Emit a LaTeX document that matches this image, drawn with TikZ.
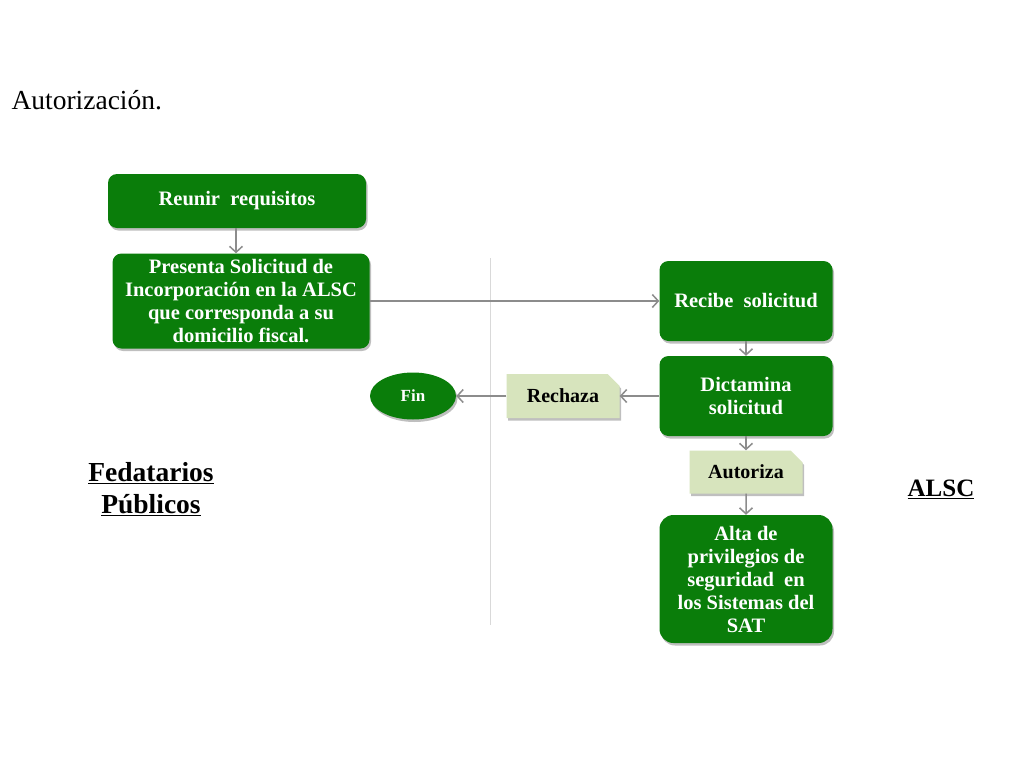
\documentclass[tikz,border=0pt]{standalone}
\usepackage{fontspec}
\setmainfont{Liberation Serif}
\usetikzlibrary{arrows.meta,shapes.misc,shapes.geometric,shadows}
\definecolor{boxgreen}{RGB}{10,125,10}
\definecolor{lightgreen}{RGB}{215,228,189}
\definecolor{arrowgray}{RGB}{140,140,140}
\begin{document}
\begin{tikzpicture}[x=1pt,y=-1pt,
  gbox/.style={draw=none,fill=boxgreen,rounded corners=9pt,text=white,font=\bfseries\fontsize{20.5}{23}\selectfont,align=center,inner sep=0pt,
    drop shadow={shadow xshift=1.5pt,shadow yshift=-2.5pt,fill=black,opacity=0.25}},
  lbox/.style={chamfered rectangle,chamfered rectangle corners=north east,chamfered rectangle xsep=6pt,chamfered rectangle ysep=6pt,fill=lightgreen,draw=none,text=black,font=\bfseries\fontsize{20}{23}\selectfont,inner sep=0pt,
    drop shadow={shadow xshift=1.5pt,shadow yshift=-2.5pt,fill=black,opacity=0.25}},
  arr/.style={draw=arrowgray,line width=1.5pt,-{Straight Barb[length=6pt,width=13pt]}}
]
\useasboundingbox (0,0) rectangle (1024,768);
\fill[white] (0,0) rectangle (1024,768);

\node[anchor=west,font=\fontsize{27.5}{30}\selectfont] (title) at (8,100) {Autorización.};

\draw[line width=1pt,draw=black!15] (490,258) coordinate (d1) -- (490,625) coordinate (d2);

\node[gbox,minimum width=258pt,minimum height=54pt] (reunir) at (237,201) {Reunir\ \ requisitos};
\node[gbox,minimum width=257pt,minimum height=95pt] (presenta) at (241,301) {Presenta Solicitud de\\Incorporación en la ALSC\\que corresponda a su\\domicilio fiscal.};
\node[gbox,minimum width=173pt,minimum height=80pt] (recibe) at (746,301) {Recibe\ \ solicitud};
\node[gbox,minimum width=173pt,minimum height=80pt] (dictamina) at (746,396) {Dictamina\\solicitud};
\node[lbox,minimum width=113pt,minimum height=43pt] (autoriza) at (746,472) {Autoriza};
\node[gbox,minimum width=173pt,minimum height=128pt,rounded corners=14pt] (alta) at (746,579) {Alta de\\privilegios de\\seguridad\ \ en\\los Sistemas del\\SAT};
\node[lbox,minimum width=113pt,minimum height=44pt] (rechaza) at (563,396) {Rechaza};
\node[ellipse,fill=boxgreen,text=white,font=\bfseries\fontsize{17}{20}\selectfont,minimum width=86pt,minimum height=47pt,inner sep=0pt,
    drop shadow={shadow xshift=1.5pt,shadow yshift=-2.5pt,fill=black,opacity=0.25}] (fin) at (413,396) {Fin};

\node[font=\bfseries\fontsize{27.5}{32}\selectfont,align=center] (fed) at (151,489) {\underline{Fedatarios}\\\underline{Públicos}};
\node[font=\bfseries\fontsize{25}{28}\selectfont] (alsc) at (941,489) {\underline{ALSC}};

\draw[arr] (reunir.south -| 236,0) -- (presenta.north -| 236,0);
\draw[arr] (presenta.east) -- (recibe.west);
\draw[arr] (recibe) -- (dictamina);
\draw[arr] (dictamina) -- (autoriza);
\draw[arr] (autoriza) -- (alta);
\draw[arr] (dictamina.west) -- (rechaza.east);
\draw[arr] (rechaza.west) -- (fin.east);
\end{tikzpicture}
\end{document}
